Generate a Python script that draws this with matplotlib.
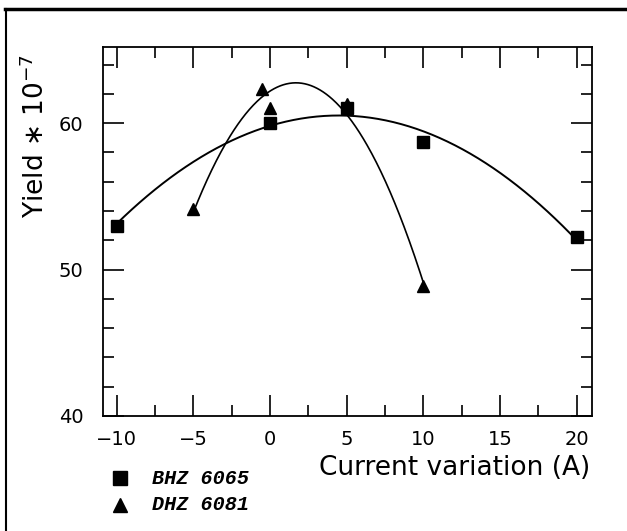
import numpy as np
import matplotlib
matplotlib.use("Agg")
import matplotlib.pyplot as plt
from matplotlib.lines import Line2D
from matplotlib.ticker import MultipleLocator

# Data
bhz_x = [-10, 0, 5, 10, 20]
bhz_y = [53.0, 60.0, 61.0, 58.7, 52.2]
dhz_x = [-5, -0.5, 0, 5, 10]
dhz_y = [54.1, 62.3, 61.0, 61.3, 48.9]
series_names = ["BHZ 6065", "DHZ 6081"]
x_ticks = [-10, -5, 0, 5, 10, 15, 20]
y_ticks = [40, 50, 60]

fig = plt.figure(figsize=(6.27, 5.31), dpi=100)
ax = fig.add_axes([0.164, 0.2166, 0.780, 0.695])

# Fitted quadratic curves
c1 = np.polyfit(bhz_x, bhz_y, 2)
xx1 = np.linspace(min(bhz_x), max(bhz_x), 300)
ax.plot(xx1, np.polyval(c1, xx1), color="black", lw=1.4)
c2 = np.polyfit(dhz_x, dhz_y, 2)
xx2 = np.linspace(min(dhz_x), max(dhz_x), 300)
ax.plot(xx2, np.polyval(c2, xx2), color="black", lw=1.2)

ax.plot(bhz_x, bhz_y, ls="none", marker="s", ms=8.5, color="black")
ax.plot(dhz_x, dhz_y, ls="none", marker="^", ms=9, color="black")

ax.set_xlim(-10.9, 21.0)
ax.set_ylim(40, 65.2)
ax.set_xticks(x_ticks)
ax.set_yticks(y_ticks)
ax.xaxis.set_minor_locator(MultipleLocator(2.5))
ax.yaxis.set_minor_locator(MultipleLocator(2))
ax.tick_params(which="both", direction="in", top=True, right=True, width=1.2)
ax.tick_params(which="major", length=15)
ax.tick_params(which="minor", length=8)
ax.tick_params(axis="x", which="major", pad=10, labelsize=14)
ax.tick_params(axis="y", which="major", pad=14, labelsize=14)
for s in ax.spines.values():
    s.set_linewidth(1.3)

ax.set_ylabel(r"Yield $\ast$ 10$^{-7}$", fontsize=19)
ax.yaxis.set_label_coords(-0.108, 0.76)
fig.text(0.942, 0.118, "Current variation (A)", fontsize=19, ha="right", va="center")

# Legend below the axes (bottom-left)
fig.add_artist(Line2D([0.191], [1 - 478 / 531], marker="s", ms=10, color="black",
                      ls="none", transform=fig.transFigure))
fig.add_artist(Line2D([0.191], [1 - 505 / 531], marker="^", ms=10, color="black",
                      ls="none", transform=fig.transFigure))
fig.text(0.243, 1 - 478 / 531, series_names[0], fontsize=14.5, family="Liberation Mono",
         style="italic", weight="bold", va="center")
fig.text(0.243, 1 - 505 / 531, series_names[1], fontsize=14.5, family="Liberation Mono",
         style="italic", weight="bold", va="center")

# Outer scan border
fig.add_artist(Line2D([0.008, 1.0], [1 - 9 / 531, 1 - 9 / 531], color="black", lw=2.5,
                      transform=fig.transFigure))
fig.add_artist(Line2D([0.010, 0.010], [0.0, 1 - 9 / 531], color="black", lw=1.5,
                      transform=fig.transFigure))

fig.savefig("out.png", dpi=100)
